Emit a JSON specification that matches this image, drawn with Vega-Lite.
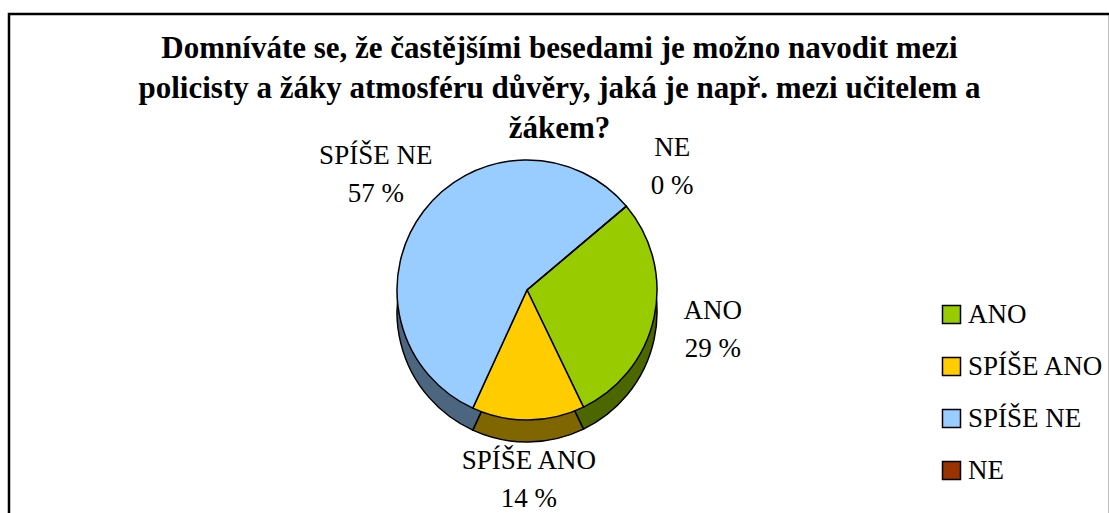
{
  "$schema": "https://vega.github.io/schema/vega-lite/v6.json",
  "width": 1101,
  "height": 501,
  "autosize": "none",
  "padding": {"left": 9, "top": 14, "right": 0, "bottom": 0},
  "background": "white",
  "view": {"stroke": "black", "strokeWidth": 2.5},
  "config": {
    "font": "Liberation Serif",
    "title": {"font": "Liberation Serif", "fontWeight": "bold", "fontSize": 31, "color": "black"}
  },
  "title": {
    "text": ["Domníváte se, že častějšími besedami je možno navodit mezi", "policisty a žáky atmosféru důvěry, jaká je např. mezi učitelem a", "žákem?"],
    "font": "Liberation Serif",
    "fontSize": 31,
    "fontWeight": "bold",
    "lineHeight": 40,
    "anchor": "middle",
    "frame": "group",
    "baseline": "alphabetic",
    "offset": -155,
    "color": "black"
  },
  "data": {
    "values": [
      {"category": "ANO", "percent": 29, "label": "ANO\n29 %", "order": 1},
      {"category": "SPÍŠE ANO", "percent": 14, "label": "SPÍŠE ANO\n14 %", "order": 2},
      {"category": "SPÍŠE NE", "percent": 57, "label": "SPÍŠE NE\n57 %", "order": 3},
      {"category": "NE", "percent": 0, "label": "NE\n0 %", "order": 4}
    ]
  },
  "encoding": {
    "theta": {"field": "percent", "type": "quantitative", "stack": true, "scale": {"range": [0.87, 7.1532]}},
    "order": {"field": "order", "type": "quantitative"},
    "color": {
      "field": "category",
      "type": "nominal",
      "scale": {"domain": ["ANO", "SPÍŠE ANO", "SPÍŠE NE", "NE"], "range": ["#99CC00", "#FFCC00", "#99CCFF", "#993300"]},
      "legend": {
        "title": null,
        "orient": "none",
        "legendX": 929,
        "legendY": 287,
        "symbolType": "square",
        "symbolSize": 324,
        "symbolStrokeColor": "black",
        "symbolStrokeWidth": 1.5,
        "symbolOpacity": 1,
        "labelFont": "Liberation Serif",
        "labelFontSize": 27,
        "labelColor": "black",
        "labelOffset": 3,
        "rowPadding": 24,
        "padding": 0,
        "labelLimit": 300
      }
    }
  },
  "layer": [
    {
      "mark": {"type": "arc", "outerRadius": 130, "stroke": "black", "strokeWidth": 1.5, "xOffset": -32.5, "yOffset": 47.5}
    },
    {
      "mark": {"type": "arc", "outerRadius": 130, "fill": "black", "fillOpacity": 0.5, "strokeWidth": 0, "xOffset": -32.5, "yOffset": 47.5},
      "encoding": {"color": {"value": "black"}}
    },
    {
      "mark": {"type": "arc", "outerRadius": 130, "stroke": "black", "strokeWidth": 1.5, "xOffset": -32.5, "yOffset": 25.5}
    },
    {
      "mark": {"type": "text", "radius": 190, "dy": -19, "font": "Liberation Serif", "fontSize": 27, "lineBreak": "\n", "lineHeight": 38, "xOffset": -32.5, "yOffset": 25.5, "baseline": "middle", "align": "center"},
      "encoding": {"text": {"field": "label", "type": "nominal"}, "color": {"value": "black"}}
    }
  ]
}
